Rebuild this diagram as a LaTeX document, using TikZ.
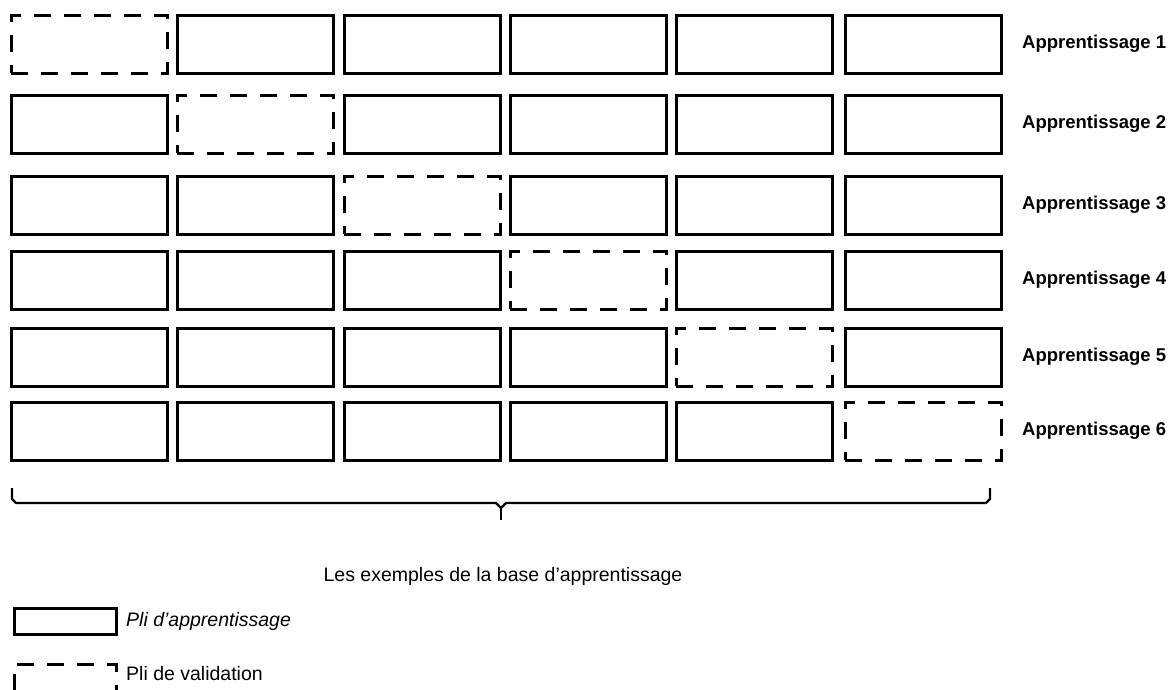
\documentclass[tikz,border=0pt]{standalone}
\usepackage{fontspec}
\setmainfont{Liberation Sans}
\begin{document}
\begin{tikzpicture}[x=1pt,y=-1pt,
  fold/.style={draw=black,line width=2.6pt,minimum width=156pt,minimum height=58pt,inner sep=0pt,anchor=north west},
  trainbox/.style={fold},
  validbox/.style={fold,dash pattern=on 17pt off 13pt},
  rowlabel/.style={anchor=west,inner sep=0pt,font=\fontsize{18.5}{20}\selectfont\bfseries},
  plaintext/.style={inner sep=0pt,font=\fontsize{19.5}{22}\selectfont},
  bracket/.style={line width=2.2pt,line join=round}]
\useasboundingbox (0,0) rectangle (1175,690);
\def\rowtops{14,94,175,250,327,401}
\def\coltops{10,176,343,509,675,844}
\foreach \ry [count=\r] in \rowtops {
  \foreach \cx [count=\c] in \coltops {
    \ifnum\r=\c
      \node[validbox] (b\r\c) at (\cx,\ry) {};
    \else
      \node[trainbox] (b\r\c) at (\cx,\ry) {};
    \fi
  }
  \node[rowlabel] (lab\r) at (1022,\ry+30) {Apprentissage \r};
}
% bracket
\coordinate (bl) at (12,488);
\coordinate (br) at (990,488);
\coordinate (tip) at (501,508);
\coordinate (tipend) at (501,520);
\draw[bracket] (bl) -- ++(0,11) -- ++(4,4) -- (496,503) -- (tip) -- (506,503) -- (986,503) -- ++(4,-4) -- (br);
\draw[bracket] (tip) -- (tipend);
\node[plaintext] (caption) at (503,576) {Les exemples de la base d'apprentissage};
% legend
\node[draw=black,line width=2.6pt,minimum width=102pt,minimum height=26pt,inner sep=0pt,anchor=north west] (legA) at (13,607) {};
\node[plaintext,anchor=west,font=\fontsize{19.5}{22}\selectfont\itshape] (legAtext) at (126,621) {Pli d'apprentissage};
\node[draw=black,line width=2.6pt,dash pattern=on 17pt off 13pt,dash phase=-14pt,minimum width=102pt,minimum height=40pt,inner sep=0pt,anchor=north west] (legB) at (13,663) {};
\node[plaintext,anchor=west] (legBtext) at (126,674) {Pli de validation};
\end{tikzpicture}
\end{document}
